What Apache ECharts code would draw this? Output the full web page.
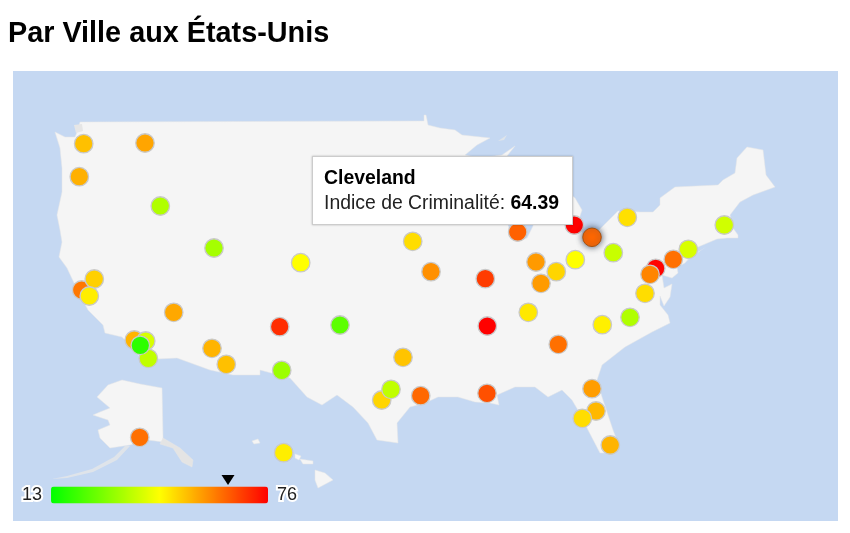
<!DOCTYPE html>
<html lang="fr">
<head>
<meta charset="utf-8">
<title>Par Ville aux États-Unis</title>
<script src="https://cdn.jsdelivr.net/npm/echarts@6/dist/echarts.min.js"></script>
<style>
  html, body { margin: 0; padding: 0; background: #fff; }
  #chart { width: 850px; height: 533px; }
</style>
</head>
<body>
<div id="chart"></div>
<script>
// --- data ---
const cities = ['Seattle', 'Spokane', 'Portland', 'Boise', 'Salt Lake City', 'Denver', 'San Francisco', 'Sacramento', 'San Jose',
  'Omaha', 'Kansas City', 'Chicago', 'Detroit', 'Buffalo', 'Boston', 'Pittsburgh', 'Columbus', 'Indianapolis', 'Cincinnati',
  'Louisville', 'Saint Louis', 'New York', 'Philadelphia', 'Baltimore', 'Washington', 'Richmond', 'Raleigh', 'Charlotte',
  'Nashville', 'Memphis', 'Atlanta', 'La Nouvelle-Orléans', 'Jacksonville', 'Orlando', 'Tampa', 'Miami', 'Houston', 'Fresno',
  'Albuquerque', 'Oklahoma City', 'Dallas', 'San Antonio', 'Austin', 'El Paso', 'Phoenix', 'Tucson', 'Los Angeles',
  'San Diego', 'Long Beach', 'Anaheim', 'Anchorage', 'Honolulu', 'Cleveland'];
const cityX = [83.7, 145, 79.3, 160.3, 214, 300.7, 81.7, 94.3, 89.3,
  412.7, 431, 517.7, 574.3, 627.3, 724.3, 613.3, 575.3, 536, 556.3,
  541, 485.3, 688.3, 673.3, 655.7, 650, 645, 630, 602.3,
  528.3, 487.3, 558.3, 487, 592, 596, 582.3, 610.3, 420.7, 173.7,
  279.7, 340, 403, 381.7, 391, 281.7, 212, 226.3, 134.3,
  148.3, 145.7, 140.3, 139.7, 283.7, 592];
const cityY = [143.7, 143, 176.7, 206, 248, 262.7, 290, 279, 296,
  241.3, 271.7, 232, 225, 217.3, 225, 252.7, 259.7, 262, 271.7,
  283.3, 278.7, 249.3, 259.3, 268.3, 274.3, 293.3, 317.3, 324.7,
  312.3, 326, 344.3, 393.3, 388.7, 411, 418.3, 445, 395.7, 312.3,
  326.7, 325, 357.3, 400, 389.3, 370.3, 348.3, 364.3, 340,
  358.3, 341, 345.3, 437.3, 452.7, 237.3];
const crimeIndex = [52.3, 55.6, 54.3, 34.7, 33.4, 44.5, 61.3, 50.3, 46.6,
  48.7, 58.2, 64, 75.8, 48.3, 38.7, 37.7, 44.4, 57, 49.7,
  56.9, 68.6, 39.7, 62.2, 75.5, 59.6, 48.7, 34.7, 46.4,
  47.3, 75.9, 62.2, 66.1, 56.6, 53.3, 48.7, 53.8, 63.2, 55.2,
  70.4, 24.4, 51.8, 49.7, 36.7, 32.3, 53.8, 52.3, 53.8,
  36.7, 39.7, 18.4, 62.2, 46.6, 64.39];
const scaleMin = 13;
const scaleMax = 76;
const hoveredCity = 'Cleveland';

// --- map outlines, same units as cityX / cityY ---
const oceanFrame = [[13, 71], [838, 71], [838, 521], [13, 521]];
const lower48 = [[55, 132], [65, 137], [75, 137], [78, 130], [80, 122], [424, 121], [424, 115], [426, 115], [428, 125],
  [440, 128], [455, 130], [462, 135], [490, 138], [477, 145], [465, 155], [480, 158], [502, 155], [515, 146], [507, 156],
  [530, 160], [555, 170], [548, 178], [522, 186], [512, 196], [505, 215], [511, 235], [516, 241], [527, 238], [533, 226],
  [536, 202], [549, 185], [565, 190], [575, 198], [582, 210], [578, 222], [582, 232], [585, 239], [596, 233], [618, 211],
  [640, 212], [653, 212], [660, 205], [660, 198], [675, 187], [718, 185], [723, 180], [735, 173], [737, 158], [747, 147],
  [763, 150], [766, 175], [775, 187], [753, 195], [740, 202], [730, 215], [733, 228], [738, 235], [738, 238], [727, 238],
  [717, 239], [698, 247], [685, 263], [677, 267], [678, 273], [672, 278], [662, 275], [664, 288], [672, 284], [670, 297],
  [664, 306], [660, 296], [660, 305], [668, 315], [670, 323],
  [652, 332], [625, 347], [602, 365], [597, 380], [602, 397], [613, 430], [618, 443], [611, 453], [600, 453], [588, 430],
  [582, 417], [572, 400], [562, 390], [548, 397], [535, 387], [515, 387], [497, 395], [499, 405], [490, 403], [475, 402],
  [458, 397], [438, 397], [425, 403], [410, 407], [397, 423], [398, 443], [377, 440], [368, 423], [353, 407], [337, 395],
  [322, 405], [307, 397], [290, 378], [260, 370], [260, 375], [233, 375], [210, 370], [177, 358], [157, 359], [140, 357],
  [127, 342], [122, 337], [105, 333], [103, 325], [88, 310], [75, 285], [67, 268], [59, 257], [62, 242], [60, 230], [57, 215],
  [62, 192], [62, 168], [60, 148]];
const longIsland = [[686, 262], [698, 252], [706, 247], [690, 258]];
const alaska = [[122, 380], [140, 384], [162, 388], [163, 437], [163, 442], [148, 440], [130, 445], [110, 448], [100, 438],
  [98, 430], [110, 425], [108, 420], [93, 415], [100, 412], [110, 408], [97, 397], [108, 385]];
const alaskaTail = [[163, 438], [180, 448], [193, 460], [192, 467], [182, 462], [173, 448], [160, 444]];
const aleutians = [[130, 446], [117, 460], [93, 472], [67, 478], [52, 479], [67, 476], [92, 469], [114, 457], [125, 446]];
const hawaiiBig = [[315, 470], [325, 473], [333, 480], [318, 488], [315, 480]];
const hawaiiMaui = [[300, 459], [313, 461], [313, 464], [303, 464]];
const hawaiiOahu = [[295, 454], [301, 456], [299, 460], [295, 458]];
const hawaiiKauai = [[252, 441], [258, 439], [260, 443], [254, 444]];
const pugetDetail = [[74, 125], [82, 124], [83, 131], [76, 133]];
const isleRoyale = [[498, 141], [507, 135], [504, 140]];

const polygon = (name, ring) => ({
  type: 'Feature',
  properties: { name: name },
  geometry: { type: 'Polygon', coordinates: [ring.concat([ring[0]])] }
});

const mapFeatures = [
  polygon('ocean', oceanFrame), polygon('lower48', lower48), polygon('longIsland', longIsland), polygon('alaska', alaska),
  polygon('alaskaTail', alaskaTail), polygon('aleutians', aleutians), polygon('hawaiiBig', hawaiiBig),
  polygon('hawaiiMaui', hawaiiMaui), polygon('hawaiiOahu', hawaiiOahu), polygon('hawaiiKauai', hawaiiKauai),
  polygon('pugetDetail', pugetDetail), polygon('isleRoyale', isleRoyale)
];
echarts.registerMap('usa', { type: 'FeatureCollection', features: mapFeatures });

document.addEventListener('DOMContentLoaded', () => {
  const chart = echarts.init(document.getElementById('chart'), null, { renderer: 'canvas' });
  const hoveredIndex = cities.indexOf(hoveredCity);
  const fontFamily = '"Liberation Sans", Arial, sans-serif';

  // bar of the legend, the marker above it follows the value of the hovered city
  const barLeft = 51;
  const barLength = 217;
  const barTop = 486;
  const markerX = barLeft + barLength * (crimeIndex[hoveredIndex] - scaleMin) / (scaleMax - scaleMin);

  const points = cities.map((name, i) => ({ name: name, value: [cityX[i], cityY[i], crimeIndex[i]] }));

  chart.setOption({
    animation: false,
    backgroundColor: '#fff',
    title: {
      text: 'Par Ville aux États-Unis',
      left: 8,
      top: 20,
      padding: 0,
      textStyle: { fontFamily: fontFamily, fontSize: 28.8, fontWeight: 'bold', color: '#000' }
    },
    tooltip: {
      trigger: 'item',
      triggerOn: 'none',
      alwaysShowContent: true,
      position: [312, 156],
      transitionDuration: 0,
      padding: 0,
      backgroundColor: '#fff',
      borderColor: '#ccc',
      borderWidth: 1,
      extraCssText: 'border-radius:0;box-shadow:0 0 2px rgba(0,0,0,.25);',
      formatter: (p) => '<div style="font-family:' + "'Liberation Sans',Arial,sans-serif" + ';font-size:19.4px;line-height:25px;color:#222;padding:8px 13px 9px 11px;">' +
        '<b style="color:#000">' + p.name + '</b><br>Indice de Criminalité: <b style="color:#000">' + p.value[2] + '</b></div>'
    },
    visualMap: {
      type: 'continuous',
      seriesIndex: 0,
      dimension: 2,
      min: scaleMin,
      max: scaleMax,
      orient: 'horizontal',
      left: 5,
      top: barTop - 17,
      itemWidth: 17,
      itemHeight: barLength,
      calculable: false,
      hoverLink: false,
      text: [String(scaleMax), String(scaleMin)],
      textGap: 9,
      textStyle: { fontFamily: fontFamily, fontSize: 18, color: '#222', textBorderColor: '#fff', textBorderWidth: 4 },
      inRange: { color: ['#00ff00', '#ffff00', '#ff0000'] }
    },
    geo: {
      map: 'usa',
      projection: { project: (p) => p, unproject: (p) => p },
      left: 13,
      top: 71,
      width: 825,
      height: 450,
      aspectScale: 1,
      roam: false,
      silent: true,
      label: { show: false },
      itemStyle: { areaColor: '#f5f5f5', borderColor: '#e6e6e6', borderWidth: 0.5 },
      regions: [
        { name: 'ocean', itemStyle: { areaColor: '#c5d8f2', borderWidth: 0 } },
        { name: 'alaskaTail', itemStyle: { areaColor: '#e4e4e4' } },
        { name: 'aleutians', itemStyle: { areaColor: '#dfe4ea', borderWidth: 0 } },
        { name: 'longIsland', itemStyle: { areaColor: '#eeeeee', borderWidth: 0 } },
        { name: 'isleRoyale', itemStyle: { areaColor: '#dfe4ea', borderWidth: 0 } },
        { name: 'pugetDetail', itemStyle: { areaColor: '#e6e6e6', borderWidth: 0 } }
      ]
    },
    series: [{
      type: 'scatter',
      coordinateSystem: 'geo',
      geoIndex: 0,
      symbol: 'circle',
      symbolSize: 18.5,
      data: points,
      encode: { lng: 0, lat: 1, value: 2 },
      itemStyle: { opacity: 1, borderColor: '#c9c9c9', borderWidth: 1.3 },
      emphasis: {
        scale: false,
        itemStyle: { borderColor: '#a8520f', borderWidth: 1, shadowBlur: 6, shadowColor: 'rgba(60,70,90,.95)' }
      }
    }],
    graphic: [{
      type: 'polygon',
      z: 100,
      silent: true,
      shape: { points: [[markerX - 6.5, barTop - 11], [markerX + 6.5, barTop - 11], [markerX, barTop - 1]] },
      style: { fill: '#000' }
    }]
  });

  // the picture shows Cleveland hovered
  chart.dispatchAction({ type: 'highlight', seriesIndex: 0, dataIndex: hoveredIndex });
  chart.dispatchAction({ type: 'showTip', seriesIndex: 0, dataIndex: hoveredIndex });
});
</script>
</body>
</html>
